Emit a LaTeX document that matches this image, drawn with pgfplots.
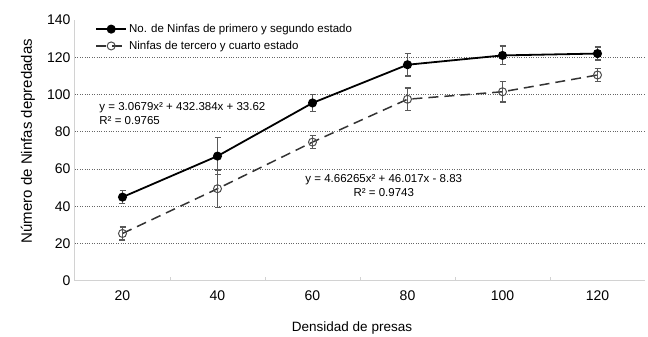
\documentclass[border=0pt]{standalone}
\usepackage{pgfplots}
\pgfplotsset{compat=1.18}
\usepackage{pgfplotstable}
\usepackage{fontspec}
\setmainfont{Liberation Sans}

\pgfplotstableread{
x y1 e1 y2 e2
20 45 3.5 25.5 3.5
40 67 10 49.5 10
60 95.5 4.7 74.5 3.5
80 116 6 97.5 6
100 121 5 101.5 5.5
120 122 3.5 110.5 3.5
}\datatab

\begin{document}
\begin{tikzpicture}
\begin{axis}[
  name=ax,
  scale only axis, width=570pt, height=261pt,
  xmin=10, xmax=130, ymin=0, ymax=140,
  axis lines*=left,
  axis line style={gray!35, line width=1pt},
  xtick={20,40,...,120},
  minor xtick={30,50,70,90,110},
  major tick length=0pt, minor tick length=4pt,
  minor tick style={gray!35, line width=0.8pt},
  ytick={20,40,...,120},
  extra y ticks={0,140},
  extra y tick style={grid=none},
  ymajorgrids,
  grid style={dotted, gray!80!black, line width=0.9pt},
  /pgf/number format/assume math mode=true,
  ticklabel style={font=\fontsize{14}{16}\selectfont},
  xticklabel style={yshift=-6pt},
  yticklabel style={xshift=-1pt},
  xlabel={Densidad de presas},
  ylabel={Número de Ninfas depredadas},
  xlabel style={at={(axis description cs:0.486,-0.182)}, anchor=center, font=\fontsize{13.5}{16}\selectfont},
  ylabel style={at={(axis description cs:-0.0825,0.536)}, anchor=center, font=\fontsize{15}{17}\selectfont},
  legend style={at={(axis description cs:0.03,1.0)}, anchor=north west, draw=none, fill=none,
    font=\fontsize{11.5}{13}\selectfont, row sep=3pt, cells={anchor=west}},
  legend image code/.code={\draw[mark repeat=2,mark phase=2,#1] plot coordinates {(0pt,0pt) (15pt,0pt) (30pt,0pt)};},
]
\addplot[black, line width=1.8pt, mark=*, mark size=3.6pt, mark options={solid, fill=black},
  error bars/.cd, y dir=both, y explicit,
  error bar style={gray!70!black, line width=1.2pt, solid},
  error mark options={rotate=90, mark size=3pt, gray!70!black, line width=1.2pt}]
  table[x=x, y=y1, y error=e1] {\datatab};
\addlegendentry{No. de Ninfas de primero y segundo estado}
\addplot[black!80, line width=1.5pt, dash pattern=on 10pt off 6pt, mark=o, mark size=4pt,
  mark options={solid, fill=white, draw=black!70, line width=1pt},
  error bars/.cd, y dir=both, y explicit,
  error bar style={gray!70!black, line width=1.2pt, solid},
  error mark options={rotate=90, mark size=3pt, gray!70!black, line width=1.2pt}]
  table[x=x, y=y2, y error=e2] {\datatab};
\addlegendentry{Ninfas de tercero y cuarto estado}
\node[anchor=west, align=left, font=\fontsize{11.5}{14}\selectfont] at (axis cs:14.4,90)
  {y = 3.0679x² + 432.384x + 33.62\\R² = 0.9765};
\node[align=center, font=\fontsize{11.5}{14}\selectfont] at (axis cs:75,51.2)
  {y = 4.66265x² + 46.017x - 8.83\\R² = 0.9743};
\end{axis}
\pgfresetboundingbox
\path (ax.south west) ++(-75pt,-56pt) rectangle ++(648pt,337pt);
\end{tikzpicture}
\end{document}
